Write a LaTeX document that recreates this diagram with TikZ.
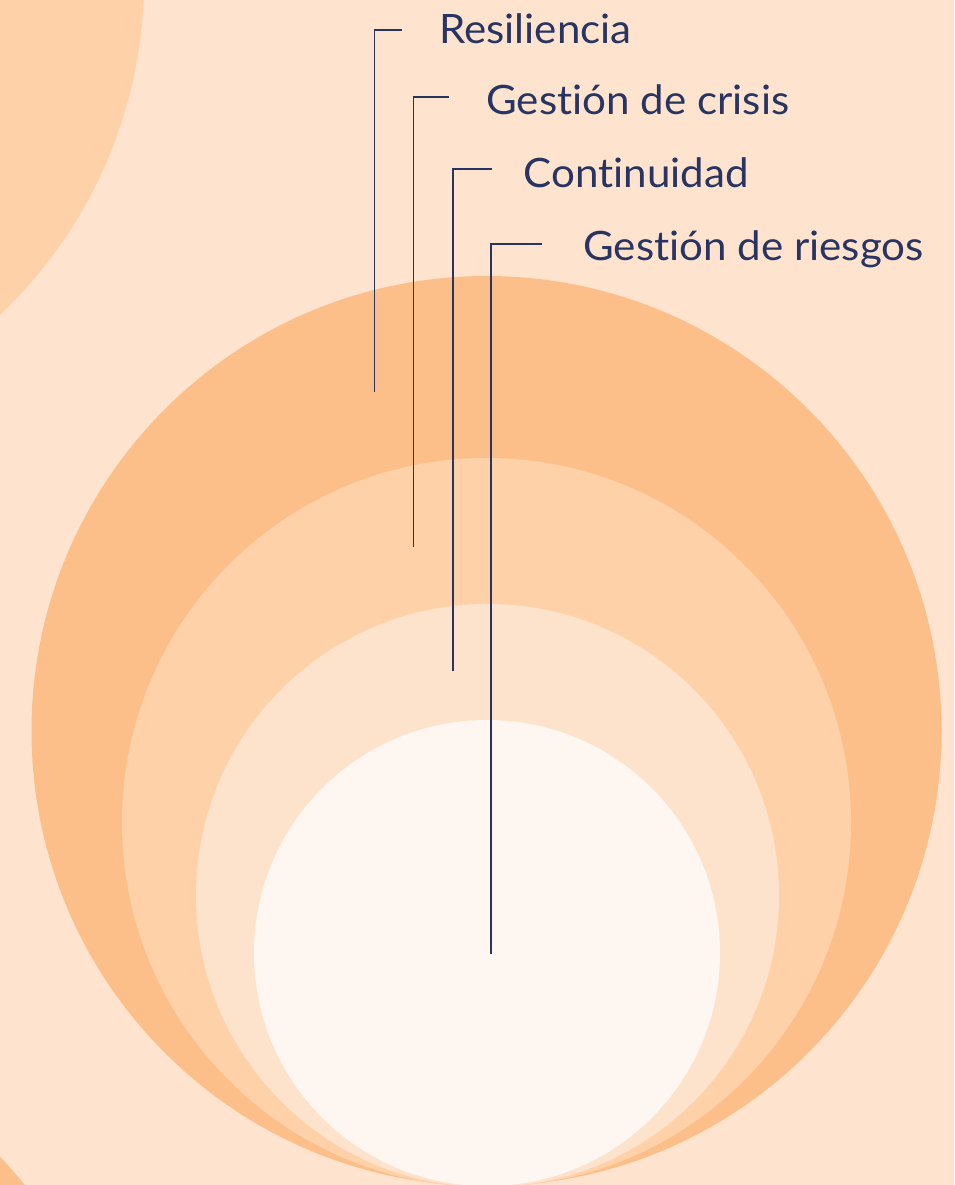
\documentclass[tikz,border=0pt]{standalone}
\usepackage{fontspec}
\setmainfont[Ligatures=NoCommon,FakeStretch=1.04]{Lato}
\definecolor{fondo}{HTML}{FEE4CE}
\definecolor{anilloA}{HTML}{FDBF89}
\definecolor{anilloB}{HTML}{FED1A9}
\definecolor{anilloC}{HTML}{FEE3CC}
\definecolor{nucleo}{HTML}{FEF7F1}
\definecolor{tinta}{HTML}{283563}
\begin{document}
\begin{tikzpicture}[x=1pt,y=-1pt,font=\fontsize{40.5}{48}\selectfont,
	guia/.style={draw=tinta,line width=1.6pt},
	etiqueta/.style={anchor=base west,inner sep=0pt,text=tinta}]
	\useasboundingbox (0,0) rectangle (954,1185);
	\clip (0,0) rectangle (954,1185);
	\fill[fondo] (0,0) rectangle (954,1185);
	% circulos de fondo
	\fill[anilloB] (-317,-20) circle(461pt);
	\fill[anilloA] (-330,1470) circle(455pt);
	% anillos tangentes abajo
	\fill[anilloA] (486.5,731) circle(455pt);
	\fill[anilloB] (486.5,822.5) circle(364.5pt);
	\fill[anilloC] (487.5,895.5) circle(291.5pt);
	\fill[nucleo] (487,953) circle(233pt);
	% etiquetas
	\node[etiqueta] (resil) at (439,43.3) {Resiliencia};
	\node[etiqueta] (crisis) at (486,114.3) {Gestión de crisis};
	\node[etiqueta] (contin) at (523.5,187.7) {Continuidad};
	\node[etiqueta] (riesgo) at (583,260.7) {Gestión de riesgos};
	\coordinate (resil-pie) at (374.3,391.7);
	\coordinate (crisis-pie) at (413.3,547.3);
	\coordinate (contin-pie) at (452.7,670.7);
	\coordinate (riesgo-pie) at (491.2,954);
	\draw[guia] (resil-pie) |- ([shift={(-37.3,-13.3)}]resil.base west);
	\draw[guia] (crisis-pie) |- ([shift={(-36.7,-17)}]crisis.base west);
	\draw[guia] (contin-pie) |- ([shift={(-31.5,-18.4)}]contin.base west);
	\draw[guia] (riesgo-pie) |- ([shift={(-41.3,-16.7)}]riesgo.base west);
\end{tikzpicture}
\end{document}
